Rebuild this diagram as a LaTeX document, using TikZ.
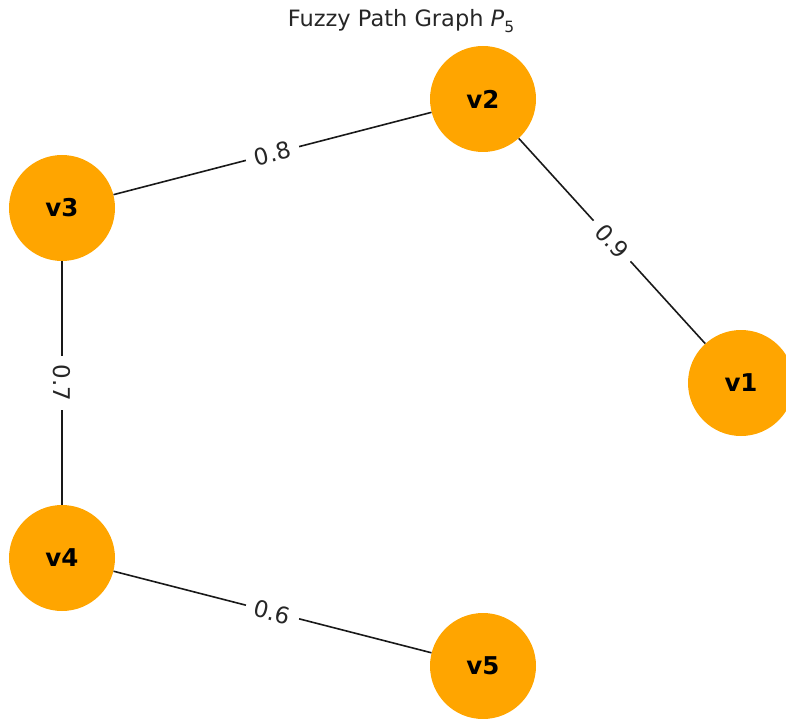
\documentclass[tikz,border=0pt]{standalone}
\usepackage{fontspec}
\setmainfont{DejaVu Sans}
\definecolor{nodeorange}{HTML}{FFA500}
\tikzset{
  vnode/.style={circle, fill=nodeorange, minimum size=106pt, inner sep=0pt, font=\fontsize{24.5}{28}\selectfont\bfseries},
  edgeline/.style={line width=1.6pt, black!90},
  elabel/.style={fill=white, inner xsep=9pt, inner ysep=1pt, font=\fontsize{23}{27}\selectfont, text=black!85}
}
\begin{document}
\begin{tikzpicture}[x=1pt,y=-1pt]
\useasboundingbox (0,0) rectangle (786,719);
\node[font=\fontsize{22.5}{26}\selectfont, text=black!85] (title) at (401,21) {Fuzzy Path Graph \textit{P}\raisebox{-0.28em}{\fontsize{15.5}{17}\selectfont 5}};
\node[vnode] (v1) at (741,383) {v1};
\node[vnode] (v2) at (483,99) {v2};
\node[vnode] (v3) at (62,208) {v3};
\node[vnode] (v4) at (62,558) {v4};
\node[vnode] (v5) at (483,666) {v5};
\draw[edgeline] (v2) -- node[elabel, rotate=-47.7] (l21) {0.9} (v1);
\draw[edgeline] (v3) -- node[elabel, rotate=14.5] (l32) {0.8} (v2);
\draw[edgeline] (v3) -- node[elabel, rotate=-90] (l34) {0.7} (v4);
\draw[edgeline] (v4) -- node[elabel, rotate=-14.4] (l45) {0.6} (v5);
\end{tikzpicture}
\end{document}
